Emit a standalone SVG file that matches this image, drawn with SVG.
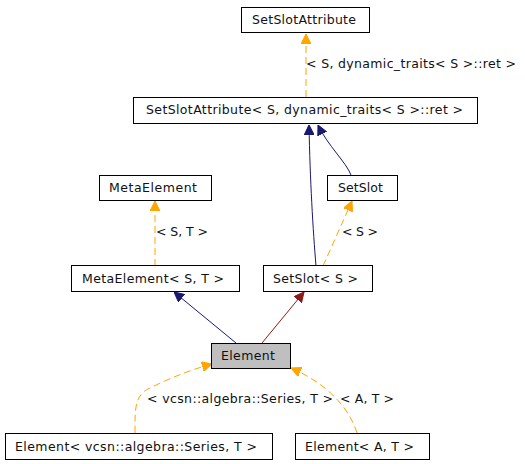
<svg xmlns="http://www.w3.org/2000/svg" width="525" height="464" viewBox="0 0 525 464">
<style>
.box{fill:#fff;stroke:#000;stroke-width:1}
.cur{fill:#bfbfbf;stroke:#000;stroke-width:1}
text{font-family:"DejaVu Sans","Liberation Sans",sans-serif;font-size:12.5px;fill:#111}
.o{fill:none;stroke:#ffa500;stroke-width:1;stroke-dasharray:7,4}
.n{fill:none;stroke:#191970;stroke-width:1}
.r{fill:none;stroke:#8b1a1a;stroke-width:1}
</style>
<defs>
<marker id="ao" viewBox="0 0 10 10" refX="10" refY="5" markerWidth="10" markerHeight="10" markerUnits="userSpaceOnUse" orient="auto"><path d="M0,0L10,5L0,10z" fill="#ffa500" stroke="#ffa500"/></marker>
<marker id="an" viewBox="0 0 10 10" refX="10" refY="5" markerWidth="10" markerHeight="10" markerUnits="userSpaceOnUse" orient="auto"><path d="M0,0L10,5L0,10z" fill="#191970" stroke="#191970"/></marker>
<marker id="ar" viewBox="0 0 10 10" refX="10" refY="5" markerWidth="10" markerHeight="10" markerUnits="userSpaceOnUse" orient="auto"><path d="M0,0L10,5L0,10z" fill="#8b1a1a" stroke="#8b1a1a"/></marker>
</defs>
<g id="edges">
<path class="o" d="M306,97L306,34" marker-end="url(#ao)"/>
<text x="306" y="68" textLength="210" lengthAdjust="spacing">&lt; S, dynamic_traits&lt; S &gt;::ret &gt;</text>
<path class="n" d="M316,266C313,230 310,180 309,125" marker-end="url(#an)"/>
<path class="n" d="M351,175C346,162 328,146 318,125" marker-end="url(#an)"/>
<path class="o" d="M323,266L352,201" marker-end="url(#ao)"/>
<text x="342" y="236" textLength="36" lengthAdjust="spacing">&lt; S &gt;</text>
<path class="o" d="M155,266L155,201" marker-end="url(#ao)"/>
<text x="156" y="236" textLength="52" lengthAdjust="spacing">&lt; S, T &gt;</text>
<path class="n" d="M236,343L174,292" marker-end="url(#an)"/>
<path class="r" d="M262,343L304,292" marker-end="url(#ar)"/>
<path class="o" d="M135,433C135,410 134,395 150,388C170,378 190,370 212,364" marker-end="url(#ao)"/>
<text x="147" y="403" textLength="186" lengthAdjust="spacing">&lt; vcsn::algebra::Series, T &gt;</text>
<path class="o" d="M357,433C350,410 330,385 291,368" marker-end="url(#ao)"/>
<text x="340" y="403" textLength="54" lengthAdjust="spacing">&lt; A, T &gt;</text>
</g>
<g id="n1"><rect class="box" x="241.5" y="7.5" width="128" height="25"/><text x="252" y="24" textLength="104" lengthAdjust="spacing">SetSlotAttribute</text></g>
<g id="n2"><rect class="box" x="133.5" y="97.5" width="344" height="26"/><text x="146" y="114" textLength="317" lengthAdjust="spacing">SetSlotAttribute&lt; S, dynamic_traits&lt; S &gt;::ret &gt;</text></g>
<g id="n3"><rect class="box" x="99.5" y="175.5" width="112" height="25"/><text x="109" y="192" textLength="88" lengthAdjust="spacing">MetaElement</text></g>
<g id="n4"><rect class="box" x="327.5" y="175.5" width="70" height="25"/><text x="338" y="192" textLength="45" lengthAdjust="spacing">SetSlot</text></g>
<g id="n5"><rect class="box" x="71.5" y="265.5" width="168" height="26"/><text x="82" y="283" textLength="142" lengthAdjust="spacing">MetaElement&lt; S, T &gt;</text></g>
<g id="n6"><rect class="box" x="263.5" y="265.5" width="109" height="26"/><text x="273" y="283" textLength="85" lengthAdjust="spacing">SetSlot&lt; S &gt;</text></g>
<g id="n7"><rect class="cur" x="211.5" y="343.5" width="79" height="25"/><text x="221" y="360" textLength="54" lengthAdjust="spacing">Element</text></g>
<g id="n8"><rect class="box" x="5.5" y="433.5" width="267" height="26"/><text x="15" y="451" textLength="242" lengthAdjust="spacing">Element&lt; vcsn::algebra::Series, T &gt;</text></g>
<g id="n9"><rect class="box" x="295.5" y="433.5" width="134" height="26"/><text x="305" y="451" textLength="109" lengthAdjust="spacing">Element&lt; A, T &gt;</text></g>
</svg>
